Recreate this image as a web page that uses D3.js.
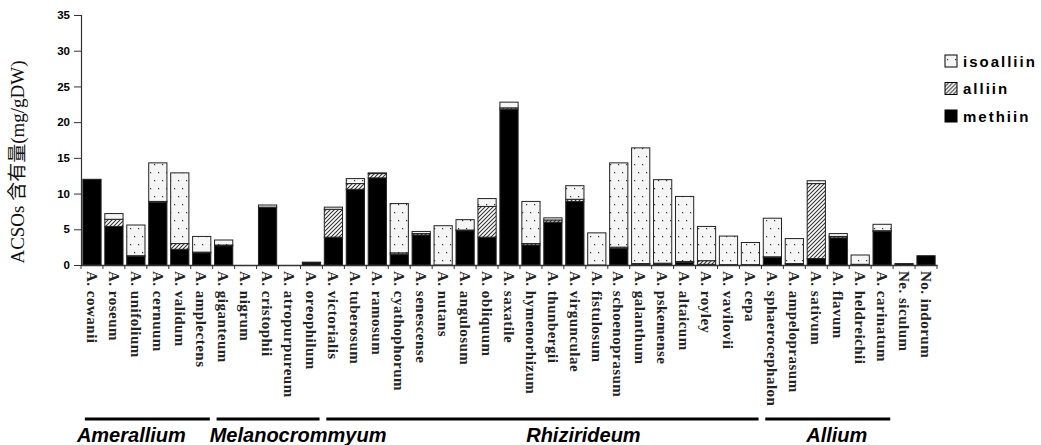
<!DOCTYPE html>
<html>
<head>
<meta charset="utf-8">
<script src="https://cdn.jsdelivr.net/npm/d3@7"></script>
<style>
  body { margin: 0; background: #fff; }
</style>
</head>
<body>
<svg id="chart"></svg>
<script>
// Data (mg/gDW)
const species = ["A. cowanii", "A. roseum", "A. unifolium", "A. cernuum", "A. validum", "A. amplectens",
  "A. giganteum", "A. nigrum", "A. cristophii", "A. atropurpureum", "A. oreophilum",
  "A. victorialis", "A. tuberosum", "A. ramosum", "A. cyathophorum", "A. senescense", "A. nutans",
  "A. angulosum", "A. obliquum", "A. saxatile", "A. hymenorhizum", "A. thunbergii", "A. virgunculae",
  "A. fistulosum", "A. schoenoprasum", "A. galanthum", "A. pskemense", "A. altaicum", "A. royley",
  "A. vavilovii", "A. cepa", "A. sphaerocephalon", "A. ampeloprasum", "A. sativum", "A. flavum",
  "A. heldreichii", "A. carinatum", "Ne. siculum", "No. indorum"];
const methiin = [12.0, 5.4, 1.2, 8.8, 2.2, 1.7, 2.7, 0, 8.1, 0, 0.3,
  3.9, 10.6, 12.2, 1.5, 4.2, 0, 4.8, 3.9, 21.8, 2.8, 6.0, 8.9,
  0, 2.3, 0.1, 0.15, 0.4, 0.1, 0.05, 0.05, 1.1, 0.2, 0.9, 3.8, 0.1, 4.7, 0.2, 1.3];
const alliin = [0, 1.0, 0.1, 0.1, 0.8, 0.1, 0.1, 0, 0, 0, 0,
  3.9, 0.8, 0.6, 0.2, 0.2, 0, 0.1, 4.3, 0.2, 0.2, 0.3, 0.3,
  0, 0.2, 0.1, 0.1, 0.1, 0.5, 0, 0, 0.05, 0, 10.5, 0.2, 0, 0.1, 0, 0];
const isoalliin = [0, 0.8, 4.3, 5.4, 9.9, 2.2, 0.7, 0, 0.3, 0, 0.1,
  0.3, 0.7, 0.1, 6.9, 0.3, 5.5, 1.45, 1.1, 0.8, 5.9, 0.3, 1.9,
  4.5, 11.8, 16.2, 11.7, 9.1, 4.8, 4.0, 3.1, 5.4, 3.5, 0.4, 0.4, 1.3, 0.9, 0, 0];
const yTicks = [0, 5, 10, 15, 20, 25, 30, 35];
const legendItems = ["isoalliin", "alliin", "methiin"];
const groups = ["Amerallium", "Melanocrommyum", "Rhizirideum", "Allium"];
const groupFirst = ["A. cowanii", "A. giganteum", "A. victorialis", "A. sphaerocephalon"];
const groupLast = ["A. amplectens", "A. oreophilum", "A. cepa", "A. carinatum"];

const width = 1041, height = 445;
const margin = { top: 15, left: 81, right: 104, bottom: 180 };
const plotBottom = height - margin.bottom;

// label offsets relative to the centre of each group line
const groupLabelShift = [-16, 30, 41, 9];

const svg = d3.select("#chart")
    .attr("width", width)
    .attr("height", height)
    .style("background", "#fff");

// Patterns for the series
const defs = svg.append("defs");
const dots = defs.append("pattern")
    .attr("id", "dots")
    .attr("patternUnits", "userSpaceOnUse")
    .attr("width", 8).attr("height", 16);
dots.append("rect").attr("width", 8).attr("height", 16).attr("fill", "#f5f5f5");
dots.append("rect").attr("x", 2).attr("y", 4).attr("width", 1.2).attr("height", 1.2).attr("fill", "#333");
dots.append("rect").attr("x", 6).attr("y", 12).attr("width", 1.2).attr("height", 1.2).attr("fill", "#333");

const hatch = defs.append("pattern")
    .attr("id", "hatch")
    .attr("patternUnits", "userSpaceOnUse")
    .attr("width", 4).attr("height", 4);
hatch.append("rect").attr("width", 4).attr("height", 4).attr("fill", "#fff");
hatch.append("path")
    .attr("d", "M-1,1 l2,-2 M0,4 l4,-4 M3,5 l2,-2")
    .attr("stroke", "#333")
    .attr("stroke-width", 1.1);

const fills = { methiin: "#000", alliin: "url(#hatch)", isoalliin: "url(#dots)" };

// Table for the stack
const table = species.map((s, i) => ({ name: s, methiin: methiin[i], alliin: alliin[i], isoalliin: isoalliin[i] }));
const stacked = d3.stack().keys(["methiin", "alliin", "isoalliin"])(table);

const xScale = d3.scaleBand()
    .domain(species)
    .range([margin.left, width - margin.right])
    .paddingInner(0.17)
    .paddingOuter(0.085);

const yScale = d3.scaleLinear()
    .domain([0, 35])
    .range([plotBottom, margin.top]);

// Bars
svg.append("g")
    .selectAll("g")
    .data(stacked)
    .enter().append("g")
    .attr("fill", d => fills[d.key])
    .selectAll("rect")
    .data(d => d.filter(p => p[1] - p[0] > 0))
    .enter().append("rect")
    .attr("x", d => xScale(d.data.name))
    .attr("y", d => yScale(d[1]))
    .attr("width", xScale.bandwidth())
    .attr("height", d => yScale(d[0]) - yScale(d[1]))
    .attr("stroke", "#222")
    .attr("stroke-width", 1);

// Y axis
const yAxis = svg.append("g")
    .attr("transform", `translate(${margin.left}, 0)`)
    .call(d3.axisLeft(yScale).tickValues(yTicks).tickSize(7).tickPadding(4));
yAxis.select(".domain").attr("stroke", "#333").attr("stroke-width", 1.2);
yAxis.selectAll("line").attr("stroke", "#333");
yAxis.selectAll("text")
    .style("font-family", "'Liberation Sans', Arial, sans-serif")
    .style("font-weight", "bold")
    .style("font-size", "11.5px")
    .attr("fill", "#000");

// X axis with rotated species labels
const xAxis = svg.append("g")
    .attr("transform", `translate(0, ${plotBottom})`)
    .call(d3.axisBottom(xScale).tickSize(0).tickPadding(0));
xAxis.select(".domain").attr("stroke", "#333").attr("stroke-width", 1.5);
xAxis.selectAll("text")
    .attr("transform", "translate(0, 6) rotate(90)")
    .attr("x", 0)
    .attr("y", 0)
    .attr("dy", "0.35em")
    .style("text-anchor", "start")
    .style("font-family", "'Liberation Serif', 'Times New Roman', serif")
    .style("font-weight", "bold")
    .style("font-size", "15px")
    .style("letter-spacing", "0.5px")
    .attr("fill", "#222");

// Small ticks between categories
const step = xScale.step();
const edges = species.map(s => xScale(s) - step * xScale.paddingInner() / 2)
    .concat([xScale(species[species.length - 1]) + xScale.bandwidth() + step * xScale.paddingInner() / 2]);
svg.append("g")
    .selectAll("line")
    .data(edges)
    .enter().append("line")
    .attr("x1", d => d).attr("x2", d => d)
    .attr("y1", plotBottom).attr("y2", plotBottom + 4)
    .attr("stroke", "#333");

// Y axis title
svg.append("text")
    .attr("transform", `translate(24, ${(margin.top + plotBottom) / 2 + 22}) rotate(-90)`)
    .style("text-anchor", "middle")
    .style("font-family", "'Liberation Serif', 'Noto Sans CJK JP', serif")
    .style("font-size", "19px")
    .attr("fill", "#111")
    .text("ACSOs 含有量(mg/gDW)");

// Group lines and names
const groupY = 419;
const groupG = svg.append("g");
groups.forEach((g, i) => {
    const x0 = xScale(groupFirst[i]) + 2;
    const x1 = xScale(groupLast[i]) + xScale.bandwidth() - 1;
    groupG.append("line")
        .attr("x1", x0).attr("x2", x1)
        .attr("y1", groupY).attr("y2", groupY)
        .attr("stroke", "#000")
        .attr("stroke-width", 3);
    groupG.append("text")
        .attr("x", (x0 + x1) / 2 + groupLabelShift[i])
        .attr("y", 442)
        .style("text-anchor", "middle")
        .style("font-family", "'Liberation Sans', Arial, sans-serif")
        .style("font-weight", "bold")
        .style("font-style", "italic")
        .style("font-size", "20px")
        .text(g);
});

// Legend
const legendFill = { isoalliin: "url(#dots)", alliin: "url(#hatch)", methiin: "#000" };
const legend = svg.selectAll(".legend")
    .data(legendItems)
    .enter().append("g")
    .attr("class", "legend")
    .attr("transform", (d, i) => `translate(945, ${55 + i * 27.5})`);
legend.append("rect")
    .attr("width", 12)
    .attr("height", 12)
    .attr("fill", d => legendFill[d])
    .attr("stroke", "#000");
legend.append("text")
    .attr("x", 18)
    .attr("y", 11.5)
    .style("font-family", "'Liberation Sans', Arial, sans-serif")
    .style("font-weight", "bold")
    .style("font-size", "15px")
    .style("letter-spacing", "2px")
    .text(d => d);
</script>
</body>
</html>
